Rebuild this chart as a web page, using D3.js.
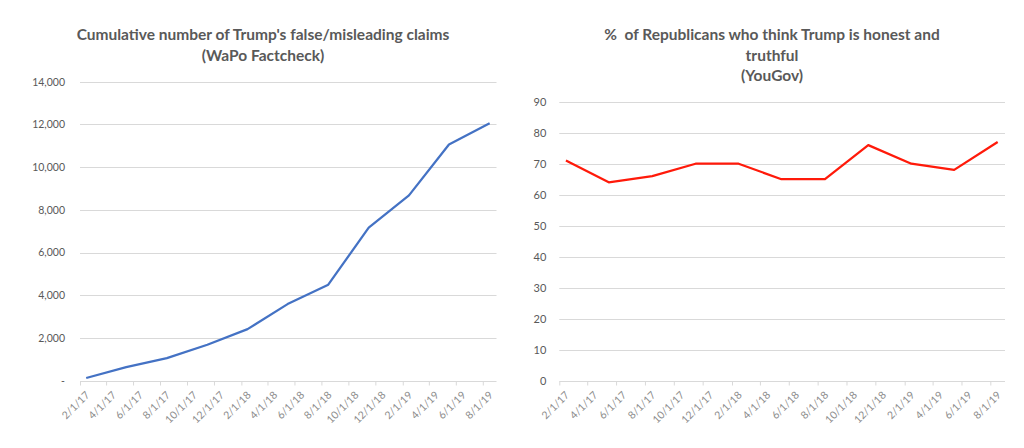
<!DOCTYPE html>
<html>
<head>
<meta charset="utf-8">
<script src="https://cdn.jsdelivr.net/npm/d3@7"></script>
<style>
    html, body { margin:0; padding:0; background:#fff; }
    svg text { font-family:Lato, "Open Sans", sans-serif; }
</style>
</head>
<body>
<div id="chart"></div>
<script>
// 数据：季度取样点
var pointDates = ['2017-02-01','2017-05-01','2017-08-01','2017-11-01','2018-02-01','2018-05-01',
                  '2018-08-01','2018-11-01','2019-02-01','2019-05-01','2019-08-01'];
var claimValues = [130, 640, 1060, 1690, 2420, 3590, 4500, 7170, 8680, 11060, 12050];
var honestValues = [71, 64, 66, 70, 70, 65, 65, 76, 70, 68, 77];

var tickLabels = ['2/1/17','4/1/17','6/1/17','8/1/17','10/1/17','12/1/17','2/1/18','4/1/18',
                  '6/1/18','8/1/18','10/1/18','12/1/18','2/1/19','4/1/19','6/1/19','8/1/19'];
var claimTicks = [0, 2000, 4000, 6000, 8000, 10000, 12000, 14000];
var honestTicks = [0, 10, 20, 30, 40, 50, 60, 70, 80, 90];

var claimTitle = ["Cumulative number of Trump's false/misleading claims", '(WaPo Factcheck)'];
var honestTitle = ['%  of Republicans who think Trump is honest and', 'truthful', '(YouGov)'];

var parse = d3.timeParse('%Y-%m-%d');
var tickParse = d3.timeParse('%m/%d/%y');

var svg = d3.select('#chart').append('svg')
    .attr('width', 1024)
    .attr('height', 448);

/**
 * 折线图
 */
function LineChart(config){
    this.config = config;
    this.draw();
}

LineChart.prototype.draw = function(){
    var config = this.config;
    var $g = svg.append('g');

    var scaleX = d3.scaleTime()
        .domain([parse('2017-02-01'), parse('2019-09-01')])
        .range([config.left, config.right]);
    var scaleY = d3.scaleLinear()
        .domain([0, config.max])
        .range([config.bottom, config.top]);

    // 月份中点
    var mid = function(d){
        return (scaleX(d) + scaleX(d3.timeMonth.offset(d, 1)))/2;
    };

    //标题
    var $title = $g.append('text')
        .attr('text-anchor', 'middle')
        .style('font-size', '15.5px')
        .style('font-weight', 'bold')
        .style('fill', '#595959')
        .style('white-space', 'pre');
    for(var i=0; i<config.title.length; i++){
        $title.append('tspan')
            .attr('x', config.titleX)
            .attr('y', 40 + i*20.5)
            .text(config.title[i]);
    }

    //网格线
    $g.append('g').selectAll('line')
        .data(config.ticks.slice(1))
        .enter().append('line')
        .attr('x1', config.left)
        .attr('x2', config.right)
        .attr('y1', function(d){ return Math.round(scaleY(d)) + 0.5; })
        .attr('y2', function(d){ return Math.round(scaleY(d)) + 0.5; })
        .style('stroke', '#d9d9d9')
        .style('stroke-width', 1);

    //axis-y
    var axisY = d3.axisLeft(scaleY)
        .tickValues(config.ticks)
        .tickSize(0)
        .tickPadding(config.yPadding)
        .tickFormat(config.format);
    var $axisY = $g.append('g')
        .attr('transform', 'translate(' + config.left + ',0)')
        .call(axisY);
    $axisY.select('.domain').remove();
    $axisY.selectAll('text')
        .style('font-size', config.yFont)
        .style('fill', '#595959')
        .style('font-family', 'Lato, sans-serif');

    //axis-x
    var tickDates = tickLabels.map(tickParse);
    var axisX = d3.axisBottom(scaleX)
        .tickValues(tickDates)
        .tickSize(4)
        .tickFormat('');
    var $axisX = $g.append('g')
        .attr('transform', 'translate(0,' + (Math.round(config.bottom) + 0.5) + ')')
        .call(axisX);
    $axisX.select('.domain')
        .attr('d', 'M' + config.left + ',0H' + config.right)
        .style('stroke', '#d9d9d9');
    $axisX.selectAll('.tick line').style('stroke', '#d9d9d9');

    $g.append('g').selectAll('text')
        .data(tickDates)
        .enter().append('text')
        .attr('text-anchor', 'end')
        .attr('transform', function(d){
            return 'translate(' + (mid(d) + 4) + ',' + (config.bottom + 15) + ') rotate(-45)';
        })
        .style('font-size', '10.5px')
        .style('fill', '#8c8c8c')
        .text(function(d, i){ return tickLabels[i]; });

    //折线
    var line = d3.line()
        .x(function(d){ return mid(parse(d.date)); })
        .y(function(d){ return scaleY(d.value); });
    var points = pointDates.map(function(d, i){
        return {date:d, value:config.values[i]};
    });
    $g.append('path')
        .datum(points)
        .attr('d', line)
        .style('fill', 'none')
        .style('stroke', config.color)
        .style('stroke-width', 2.25)
        .style('stroke-linejoin', 'round');

    return this;
};

new LineChart({
    title: claimTitle,
    titleX: 263,
    values: claimValues,
    ticks: claimTicks,
    max: 14000,
    left: 80,
    right: 496.5,
    top: 81.7,
    bottom: 380.8,
    color: '#4472c4',
    yFont: '10.5px',
    yPadding: 15,
    format: function(d){ return d === 0 ? '-' : d3.format(',')(d); }
});

new LineChart({
    title: honestTitle,
    titleX: 772,
    values: honestValues,
    ticks: honestTicks,
    max: 90,
    left: 559.3,
    right: 1005,
    top: 101.7,
    bottom: 380.8,
    color: '#ff1a0a',
    yFont: '11px',
    yPadding: 13,
    format: function(d){ return d; }
});
</script>
</body>
</html>
